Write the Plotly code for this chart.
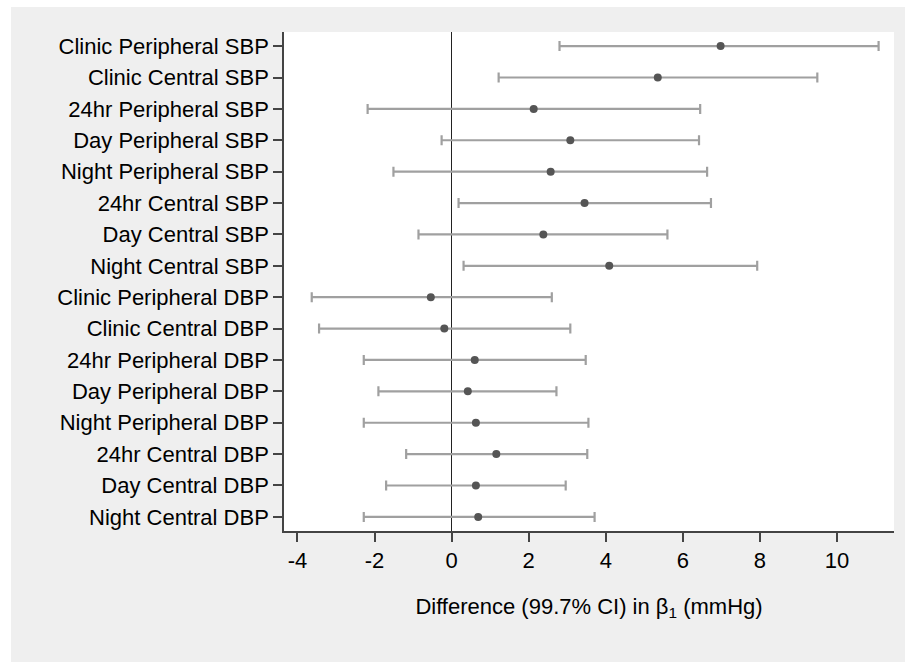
import plotly.graph_objects as go

categories = [
    "Clinic Peripheral SBP", "Clinic Central SBP", "24hr Peripheral SBP",
    "Day Peripheral SBP", "Night Peripheral SBP", "24hr Central SBP",
    "Day Central SBP", "Night Central SBP", "Clinic Peripheral DBP",
    "Clinic Central DBP", "24hr Peripheral DBP", "Day Peripheral DBP",
    "Night Peripheral DBP", "24hr Central DBP", "Day Central DBP",
    "Night Central DBP",
]
estimate = [6.98, 5.35, 2.13, 3.08, 2.57, 3.45, 2.38, 4.09,
            -0.54, -0.19, 0.60, 0.42, 0.63, 1.16, 0.63, 0.69]
ci_low = [2.80, 1.22, -2.18, -0.26, -1.51, 0.18, -0.86, 0.31,
          -3.63, -3.44, -2.28, -1.90, -2.28, -1.18, -1.70, -2.28]
ci_high = [11.08, 9.49, 6.45, 6.42, 6.63, 6.73, 5.60, 7.93,
           2.60, 3.08, 3.48, 2.72, 3.55, 3.52, 2.96, 3.71]
x_ticks = [-4, -2, 0, 2, 4, 6, 8, 10]
x_title = "Difference (99.7% CI) in β<sub>1</sub> (mmHg)"

W, H = 905, 662
ML, MR, MT, MB = 284, 11, 32, 131

fig = go.Figure()
fig.add_trace(go.Scatter(
    x=estimate,
    y=categories,
    mode="markers",
    marker=dict(color="#555555", size=8),
    error_x=dict(
        type="data",
        symmetric=False,
        array=[h - e for h, e in zip(ci_high, estimate)],
        arrayminus=[e - l for e, l in zip(estimate, ci_low)],
        color="#a0a0a0",
        thickness=2.2,
        width=5,
    ),
    showlegend=False,
))

pw = W - ML - MR
ph = H - MT - MB
def px_x(p):
    return (p - ML) / pw
def px_y(p):
    return (H - MB - p) / ph

# white outer border strips (left and top) over the grey paper
fig.add_shape(type="rect", xref="paper", yref="paper",
              x0=px_x(0), x1=px_x(11), y0=px_y(H), y1=px_y(0),
              fillcolor="white", line=dict(width=0))
fig.add_shape(type="rect", xref="paper", yref="paper",
              x0=px_x(0), x1=px_x(W), y0=px_y(7), y1=px_y(0),
              fillcolor="white", line=dict(width=0))

fig.update_layout(
    width=W, height=H,
    margin=dict(l=ML, r=MR, t=MT, b=MB, pad=0),
    paper_bgcolor="#efefef",
    plot_bgcolor="white",
    font=dict(family="Liberation Sans, Arial, sans-serif", size=22, color="black"),
)
fig.update_xaxes(
    range=[-4.35, 11.48],
    tickvals=x_ticks,
    ticktext=[str(t) for t in x_ticks],
    showgrid=False,
    zeroline=True, zerolinecolor="#222222", zerolinewidth=1.3,
    showline=True, linecolor="#444444", linewidth=1.5,
    ticks="outside", ticklen=9, tickwidth=1.5, tickcolor="#444444",
    title=dict(text=x_title, standoff=26, font=dict(size=22)),
)
fig.update_yaxes(
    categoryorder="array", categoryarray=categories,
    autorange=False,
    range=[15.45, -0.45],
    showgrid=False, zeroline=False,
    showline=True, linecolor="#444444", linewidth=1.5,
    ticks="outside", ticklen=9, tickwidth=1.5, tickcolor="#444444",
)

fig.write_html("out.html", config={"displayModeBar": False},
               post_script="document.body.style.margin='0';")
